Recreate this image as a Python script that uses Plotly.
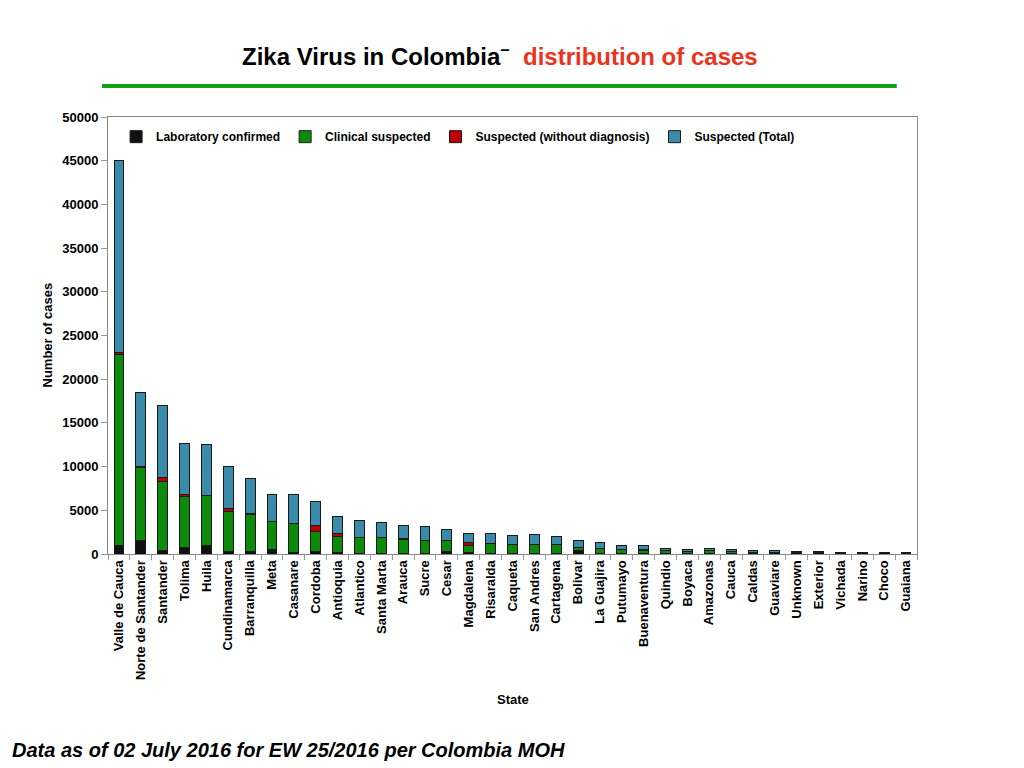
import plotly.graph_objects as go

BLACK, GREEN, RED, BLUE = "#111111", "#0b8a0b", "#c00000", "#3a8aaa"

# Data
states = ["Valle de Cauca", "Norte de Santander", "Santander", "Tolima", "Huila",
          "Cundinamarca", "Barranquilla", "Meta", "Casanare", "Cordoba", "Antioquia",
          "Atlantico", "Santa Marta", "Arauca", "Sucre", "Cesar", "Magdalena",
          "Risaralda", "Caqueta", "San Andres", "Cartagena", "Bolivar", "La Guajira",
          "Putumayo", "Buenaventura", "Quindio", "Boyaca", "Amazonas", "Cauca",
          "Caldas", "Guaviare", "Unknown", "Exterior", "Vichada", "Narino", "Choco",
          "Guaiana"]
lab_confirmed = [950, 1600, 400, 800, 950, 300, 250, 550, 200, 250, 200,
                 100, 100, 80, 80, 250, 150, 80, 50, 50, 50, 350, 50,
                 30, 30, 30, 20, 20, 20, 20, 10, 30, 30, 10, 10, 10, 10]
clinical = [21900, 8350, 7950, 5750, 5700, 4600, 4300, 3150, 3300, 2350, 1800,
            1800, 1800, 1620, 1480, 1330, 850, 1100, 1030, 1030, 1030, 400, 600,
            500, 420, 350, 230, 330, 230, 180, 150, 100, 100, 60, 60, 60, 60]
susp_no_dx = [150, 100, 350, 300, 100, 250, 50, 50, 30, 700, 380,
              20, 20, 20, 20, 20, 330, 20, 20, 20, 20, 10, 10,
              10, 10, 10, 5, 5, 5, 5, 5, 5, 5, 0, 0, 0, 0]
susp_total = [22000, 8450, 8300, 5850, 5750, 4850, 4050, 3070, 3300, 2760, 1900,
              1970, 1740, 1560, 1550, 1150, 1040, 1170, 1000, 1150, 880, 840, 680,
              410, 490, 270, 245, 305, 245, 195, 185, 145, 145, 80, 80, 80, 80]

series = [
    ("Laboratory confirmed", lab_confirmed, BLACK),
    ("Clinical suspected", clinical, GREEN),
    ("Suspected (without diagnosis)", susp_no_dx, RED),
    ("Suspected (Total)", susp_total, BLUE),
]

fig = go.Figure()
for name, vals, col in series:
    fig.add_trace(go.Bar(
        x=states, y=vals, name="<b>" + name + "</b>", marker_color=col,
        marker_line=dict(color="#1a1a1a", width=1),
        hovertemplate="%{x}<br>" + name + ": %{y}<extra></extra>",
    ))

FONT = "Liberation Sans, Arial, sans-serif"

fig.update_xaxes(
    type="category", tickangle=-90, tickson="boundaries", ticks="outside",
    ticklen=5, tickcolor="#999", showline=True, linecolor="#888", mirror=True,
    tickfont=dict(size=13, color="black", family=FONT),
    tickprefix="<b>", ticksuffix="</b>",
)
fig.update_yaxes(
    range=[0, 50000], dtick=5000, tickformat="d", ticks="outside", ticklen=6,
    tickcolor="#999", showline=True, linecolor="#888", mirror=True,
    showgrid=False, zeroline=False,
    tickfont=dict(size=13, color="black", family=FONT),
    tickprefix="<b>", ticksuffix="</b>",
)

# title, rule, axis titles and footnote
fig.add_annotation(
    text="<b>Zika Virus in Colombia<sup>–</sup>  "
         "<span style='color:#e8341c'>distribution of cases</span></b>",
    x=0.484, y=1.142, xref="paper", yref="paper", yanchor="middle", showarrow=False,
    font=dict(size=24, color="black", family=FONT),
)
fig.add_shape(type="line", xref="paper", yref="paper",
              x0=-0.0074, x1=0.975, y0=1.071, y1=1.071,
              line=dict(color="#14a014", width=4))
fig.add_annotation(text="<b>Number of cases</b>", textangle=-90,
                   x=-0.0754, y=0.5, xref="paper", yref="paper",
                   xanchor="center", yanchor="middle", showarrow=False,
                   font=dict(size=13, color="black", family=FONT))
fig.add_annotation(text="<b>State</b>", x=0.5, y=-0.334, xref="paper", yref="paper",
                   yanchor="middle", showarrow=False,
                   font=dict(size=13, color="black", family=FONT))
fig.add_annotation(text="<b><i>Data as of 02 July 2016 for EW 25/2016 per Colombia MOH</i></b>",
                   x=-0.121, y=-0.4485, xref="paper", yref="paper", xanchor="left",
                   yanchor="middle", showarrow=False,
                   font=dict(size=20, color="black", family=FONT))

fig.update_layout(
    barmode="stack", bargap=0.55,
    width=1016, height=760,
    margin=dict(l=100, r=107, t=109, b=214),
    plot_bgcolor="white", paper_bgcolor="white",
    font=dict(family=FONT, color="black"),
    legend=dict(orientation="h", x=0.01, y=0.955, xanchor="left", yanchor="middle",
                font=dict(size=12, family=FONT), bgcolor="rgba(0,0,0,0)",
                itemwidth=30, traceorder="normal"),
)

fig.write_html("out.html")
